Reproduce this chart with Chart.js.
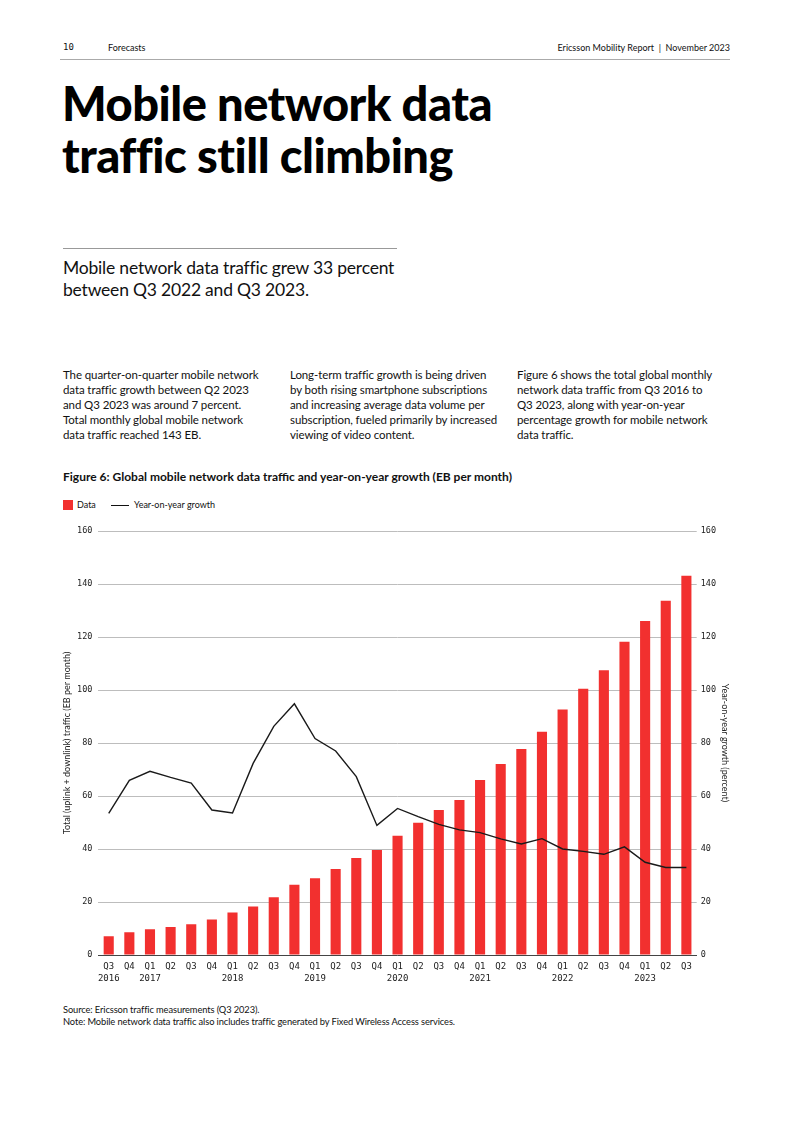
<!DOCTYPE html>
<html>
<head>
<meta charset="utf-8">
<script src="https://cdn.jsdelivr.net/npm/chart.js@4"></script>
<style>
  html, body { margin: 0; padding: 0; background: #fff; }
  body { width: 793px; height: 1122px; position: relative; font-family: Lato, "Noto Sans", sans-serif; color: #111; overflow: hidden; }
  .abs { position: absolute; white-space: nowrap; }
  .hdr { top: 42px; font-size: 9px; }
  .mono { font-family: "DejaVu Sans Mono", monospace; }
  .title { left: 62px; top: 77px; font-size: 47px; font-weight: 900; line-height: 52px; letter-spacing: -0.5px; color: #000; }
  .sub { left: 63px; top: 257px; font-size: 17.5px; line-height: 22px; letter-spacing: -0.2px; }
  .col { top: 367px; font-size: 11.5px; line-height: 15px; letter-spacing: -0.1px; }
  .cap { left: 63px; top: 469px; font-size: 12px; font-weight: 700; }
  .leg { top: 499px; font-size: 9px; }
  .src { left: 63px; top: 1004px; font-size: 9.3px; line-height: 12px; letter-spacing: -0.1px; }
  #wrap { position: absolute; left: 50px; top: 518px; width: 695px; height: 472px; }
</style>
</head>
<body>
<div class="abs hdr mono" style="left:63px;">10</div>
<div class="abs hdr" style="left:108px;">Forecasts</div>
<div class="abs hdr" style="right:63px;">Ericsson Mobility Report&nbsp; |&nbsp; November 2023</div>
<div class="abs" style="left:60px; top:59px; width:670px; height:1px; background:#aaa;"></div>

<div class="abs title">Mobile network data<br>traffic still climbing</div>
<div class="abs" style="left:63px; top:248px; width:334px; height:1px; background:#999;"></div>
<div class="abs sub">Mobile network data traffic grew 33 percent<br>between Q3 2022 and Q3 2023.</div>

<div class="abs col" style="left:63px;">The quarter-on-quarter mobile network<br>data traffic growth between Q2 2023<br>and Q3 2023 was around 7 percent.<br>Total monthly global mobile network<br>data traffic reached 143 EB.</div>
<div class="abs col" style="left:290px;">Long-term traffic growth is being driven<br>by both rising smartphone subscriptions<br>and increasing average data volume per<br>subscription, fueled primarily by increased<br>viewing of video content.</div>
<div class="abs col" style="left:517px;">Figure 6 shows the total global monthly<br>network data traffic from Q3 2016 to<br>Q3 2023, along with year-on-year<br>percentage growth for mobile network<br>data traffic.</div>

<div class="abs cap">Figure 6: Global mobile network data traffic and year-on-year growth (EB per month)</div>
<div class="abs" style="left:63px; top:500px; width:10px; height:10px; background:#f2302f;"></div>
<div class="abs leg" style="left:77px;">Data</div>
<div class="abs" style="left:111px; top:505px; width:18px; height:1px; background:#111;"></div>
<div class="abs leg" style="left:134px;">Year-on-year growth</div>

<div id="wrap"><canvas id="chart"></canvas></div>

<div class="abs src">Source: Ericsson traffic measurements (Q3 2023).<br>Note: Mobile network data traffic also includes traffic generated by Fixed Wireless Access services.</div>

<script>
const quarters = [
  ['Q3', '2016'], 'Q4',
  ['Q1', '2017'], 'Q2', 'Q3', 'Q4',
  ['Q1', '2018'], 'Q2', 'Q3', 'Q4',
  ['Q1', '2019'], 'Q2', 'Q3', 'Q4',
  ['Q1', '2020'], 'Q2', 'Q3', 'Q4',
  ['Q1', '2021'], 'Q2', 'Q3', 'Q4',
  ['Q1', '2022'], 'Q2', 'Q3', 'Q4',
  ['Q1', '2023'], 'Q2', 'Q3'
];
const trafficEB = [7.1, 8.6, 9.7, 10.6, 11.6, 13.4, 16.0, 18.3, 21.8, 26.5, 29.0, 32.5, 36.6, 39.6,
  45.0, 49.9, 54.7, 58.5, 66.0, 72.1, 77.7, 84.2, 92.6, 100.5, 107.5, 118.2, 126.0, 133.7, 143.1];
const growthPct = [53.4, 65.9, 69.3, 67.0, 64.9, 54.7, 53.6, 72.3, 86.3, 94.8, 81.7, 77.0, 67.3, 48.9,
  55.3, 52.2, 49.3, 47.2, 46.2, 43.8, 41.9, 43.9, 40.0, 39.1, 38.0, 40.8, 35.0, 33.0, 33.0];
const axisTicks = [0, 20, 40, 60, 80, 100, 120, 140, 160];

const tickFont = { family: 'DejaVu Sans Mono', size: 8.5 };
const titleFont = { family: 'Lato', size: 9 };

new Chart(document.getElementById('chart'), {
  type: 'bar',
  data: {
    labels: quarters,
    datasets: [{
      type: 'line',
      label: 'Year-on-year growth',
      data: growthPct,
      yAxisID: 'y2',
      borderColor: '#1a1a1a',
      borderWidth: 1.4,
      pointRadius: 0,
      tension: 0,
      order: 0
    }, {
      label: 'Data',
      data: trafficEB,
      yAxisID: 'y',
      backgroundColor: '#f2302f',
      categoryPercentage: 1,
      barPercentage: 0.49,
      order: 1
    }]
  },
  options: {
    responsive: true,
    maintainAspectRatio: false,
    animation: false,
    layout: { padding: { top: 13 } },
    plugins: { legend: { display: false }, tooltip: { enabled: false } },
    scales: {
      x: {
        grid: { display: false, drawTicks: false },
        border: { color: '#444', width: 1 },
        ticks: { color: '#222', font: { family: 'DejaVu Sans Mono', size: 9, lineHeight: 1.33 }, padding: 6, maxRotation: 0, autoSkip: false },
        afterFit: s => { s.height = 35; }
      },
      y: {
        position: 'left',
        min: 0, max: 160,
        afterBuildTicks: s => { s.ticks = axisTicks.map(v => ({ value: v })); },
        grid: { color: '#bdbdbd', lineWidth: 1, drawTicks: false },
        border: { display: false },
        ticks: { color: '#222', font: tickFont, padding: 6 },
        title: { display: true, text: 'Total (uplink + downlink) traffic (EB per month)', color: '#222', font: titleFont, padding: { top: 12, bottom: 0 } },
        afterFit: s => { s.width = 48.4; }
      },
      y2: {
        position: 'right',
        min: 0, max: 160,
        afterBuildTicks: s => { s.ticks = axisTicks.map(v => ({ value: v })); },
        grid: { display: false, drawTicks: false },
        border: { display: false },
        ticks: { color: '#222', font: tickFont, padding: 4 },
        title: { display: true, text: 'Year-on-year growth (percent)', color: '#222', font: titleFont, padding: { top: 15, bottom: 0 } },
        afterFit: s => { s.width = 48.3; }
      }
    }
  }
});
</script>
</body>
</html>
